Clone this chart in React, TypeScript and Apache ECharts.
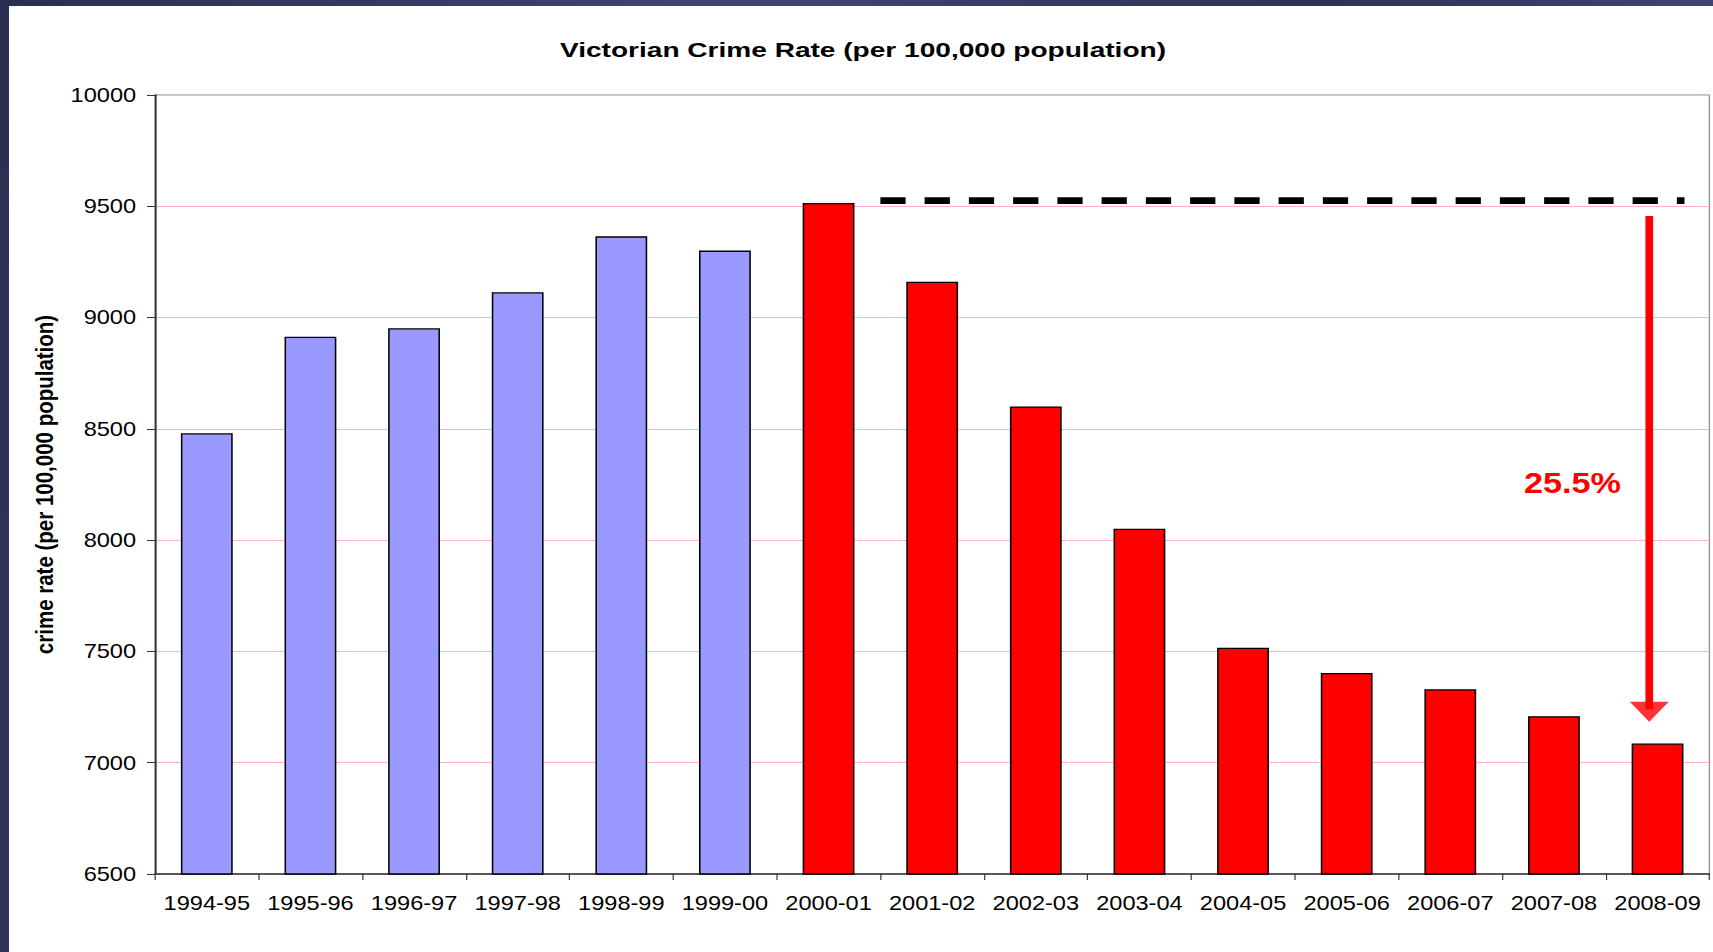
import React, { useEffect, useRef } from "react";
import * as echarts from "echarts";

const categories = [
  "1994-95", "1995-96", "1996-97", "1997-98", "1998-99", "1999-00", "2000-01",
  "2001-02", "2002-03", "2003-04", "2004-05", "2005-06", "2006-07", "2007-08", "2008-09",
];
const crimeRate = [8480, 8914, 8952, 9114, 9365, 9301, 9515, 9161, 8601, 8051, 7517, 7403, 7330, 7209, 7086];
const blueCount = 6;
const yTicks = { min: 6500, max: 10000, interval: 500 };
const peakLine = [[7.0, 9525], [14.76, 9525]];
const arrowShaft = [[14.42, 9456], [14.42, 7240]];
const arrowHead = [[14.42, 7229]];
const dropLabel = "25.5%";
const titleText = "Victorian Crime Rate (per 100,000 population)";
const yAxisName = "crime rate (per 100,000 population)";

// the original slide is horizontally stretched
const SX = 1.18;
const W = 1713;
const H = 952;

export default function App() {
  const ref = useRef<HTMLDivElement>(null);
  useEffect(() => {
    if (!ref.current) return;
    const chart = echarts.init(ref.current, null, { renderer: "svg" });
    const font = "'Liberation Sans', Arial, sans-serif";
    const px = (v: number) => v / SX;
    chart.setOption({
      animation: false,
      backgroundColor: "transparent",
      grid: {
        left: px(155),
        right: px(4),
        top: 95,
        bottom: 78,
        show: true,
        borderColor: "#888",
        borderWidth: 1,
        backgroundColor: "transparent",
      },
      xAxis: [
        {
          type: "category",
          data: categories,
          axisLine: { lineStyle: { color: "#333", width: 1.5 } },
          axisTick: { show: true, length: 6, alignWithLabel: false, lineStyle: { color: "#333" } },
          axisLabel: { fontFamily: font, fontSize: 20, color: "#000", margin: 19, interval: 0 },
        },
        { type: "value", min: 0, max: 15, show: false },
      ],
      yAxis: {
        type: "value",
        min: yTicks.min,
        max: yTicks.max,
        interval: yTicks.interval,
        name: yAxisName,
        nameLocation: "middle",
        nameRotate: 90,
        nameGap: 83,
        nameTextStyle: { fontFamily: font, fontSize: 20.5, fontWeight: "bold", color: "#000" },
        axisLine: { show: true, lineStyle: { color: "#333", width: 1.5 } },
        axisTick: { show: true, length: 6.8, lineStyle: { color: "#333" } },
        axisLabel: {
          fontFamily: font,
          fontSize: 20,
          color: "#000",
          margin: 16,
          formatter: (v: number) => String(v),
        },
        splitLine: { show: true, lineStyle: { color: "#ffb0d8", width: 1 } },
      },
      series: [
        {
          type: "bar",
          xAxisIndex: 0,
          barWidth: "50%",
          data: crimeRate.map((v, i) => ({
            value: v,
            itemStyle: {
              color: i < blueCount ? "#9999ff" : "#ff0000",
              borderColor: "#000",
              borderWidth: 1.3,
            },
          })),
        },
        {
          type: "line",
          xAxisIndex: 1,
          data: peakLine,
          symbol: "none",
          lineStyle: { color: "#000", width: 6.7, type: [21.4, 16.1], cap: "butt" },
          z: 5,
        },
        {
          type: "line",
          xAxisIndex: 1,
          data: arrowShaft,
          symbol: "none",
          lineStyle: { color: "#ff0000", width: 6.5, cap: "butt" },
          z: 5,
        },
        {
          type: "scatter",
          xAxisIndex: 1,
          data: arrowHead,
          symbol: "triangle",
          symbolRotate: 180,
          symbolSize: [33, 20],
          itemStyle: { color: "#ff0000" },
          z: 5,
        },
      ],
      graphic: [
        {
          type: "text",
          x: px(863),
          y: 50,
          scaleX: 1.19,
          style: {
            text: titleText,
            fill: "#000",
            font: `bold 20px ${font}`,
            align: "center",
            verticalAlign: "middle",
          },
          z: 10,
        },
        {
          type: "text",
          left: px(1524),
          top: 468,
          style: { text: dropLabel, fill: "#ff0000", font: `bold 29px ${font}` },
          z: 10,
        },
      ],
    });
    return () => chart.dispose();
  }, []);
  return (
    <div
      style={{
        position: "fixed",
        left: 0,
        top: 0,
        width: W,
        height: H,
        overflow: "hidden",
        background: "linear-gradient(100deg, #2a2f52 0%, #3e4674 40%, #2d3356 70%, #454c80 100%)",
      }}
    >
      <div style={{ position: "absolute", left: 9, top: 6, right: 0, bottom: 0, background: "#fff" }} />
      <div
        ref={ref}
        style={{
          position: "absolute",
          left: 0,
          top: 0,
          width: W / SX,
          height: H,
          transform: `scaleX(${SX})`,
          transformOrigin: "0 0",
        }}
      />
    </div>
  );
}
